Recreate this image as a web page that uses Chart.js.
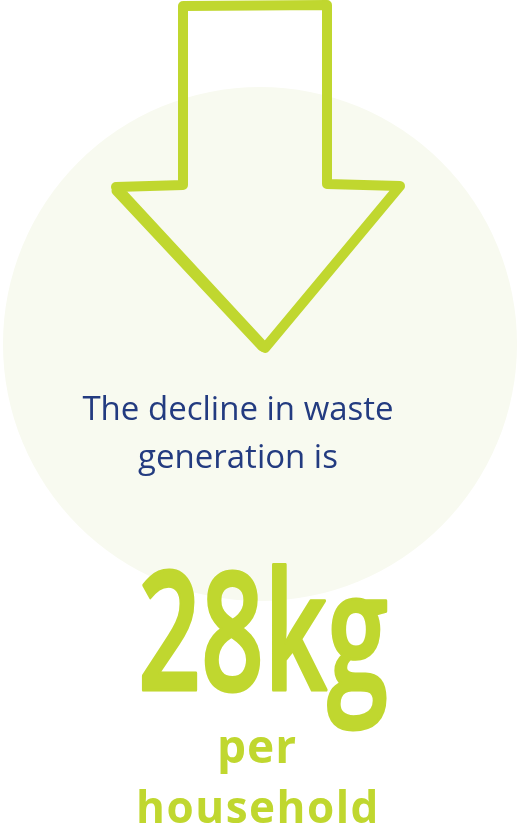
<!DOCTYPE html>
<html>
<head>
<meta charset="utf-8">
<script src="https://cdn.jsdelivr.net/npm/chart.js@4/dist/chart.umd.min.js"></script>
<style>
  html, body { margin: 0; padding: 0; background: #ffffff; }
  #wrap { width: 525px; height: 833px; position: relative; }
</style>
</head>
<body>
<div id="wrap"><canvas id="wasteChart"></canvas></div>
<script>
// values shown on the graphic
const declineValue = [28];
const declineUnit = ['kg'];
const captionLines = ['The decline in waste', 'generation is'];
const footLines = ['per', 'household'];

// colours
const green = '#c0d72f';
const navy = '#233b80';
const pale = '#f8faf0';

// arrow outline (centre line of the hand drawn stroke, in page units)
const arrowX = [183, 327, 327, 400, 265, 116, 183, 183];
const arrowY = [6, 5, 184, 186, 348, 187, 185, 6];
const arrowPoints = arrowX.map((x, i) => ({ x: x, y: arrowY[i] }));
// second pass on the left edge of the head, makes it look thicker
const headEdge = [{ x: 116, y: 191 }, { x: 262, y: 347 }];

// draws the texts with the scales so they sit in the same units as the marks
const textPlugin = {
    id: 'textPlugin',
    afterDatasetsDraw(chart) {
        const ctx = chart.ctx;
        const xs = chart.scales.x;
        const ys = chart.scales.y;
        ctx.save();
        ctx.textAlign = 'center';
        ctx.textBaseline = 'alphabetic';

        // caption
        ctx.fillStyle = navy;
        ctx.font = '33px "Open Sans"';
        ctx.fillText(captionLines[0], xs.getPixelForValue(238), ys.getPixelForValue(420));
        ctx.fillText(captionLines[1], xs.getPixelForValue(238), ys.getPixelForValue(468));

        // big number, squeezed to look like the brush lettering
        const big = declineValue[0] + declineUnit[0];
        ctx.font = '600 165px "Open Sans"';
        const w = ctx.measureText(big).width;
        const target = 250;
        ctx.translate(xs.getPixelForValue(263), ys.getPixelForValue(690));
        ctx.scale(target / w, 1);
        ctx.fillStyle = green;
        ctx.strokeStyle = green;
        ctx.lineJoin = 'round';
        ctx.lineWidth = 3;
        ctx.fillText(big, 0, 0);
        ctx.strokeText(big, 0, 0);
        ctx.setTransform(1, 0, 0, 1, 0, 0);

        // per household
        ctx.fillStyle = green;
        ctx.font = 'bold 46px "Open Sans"';
        ctx.letterSpacing = '1px';
        ctx.fillText(footLines[0], xs.getPixelForValue(257), ys.getPixelForValue(763));
        ctx.font = 'bold 44px "Open Sans"';
        ctx.letterSpacing = '1.5px';
        ctx.fillText(footLines[1], xs.getPixelForValue(258), ys.getPixelForValue(823));
        ctx.restore();
    }
};

const ctx = document.getElementById('wasteChart').getContext('2d');

new Chart(ctx, {
    type: 'scatter',
    data: {
        datasets: [
            {
                // the pale disc behind the arrow
                data: [{ x: 260, y: 344 }],
                pointRadius: 257,
                pointHoverRadius: 257,
                backgroundColor: pale,
                borderWidth: 0,
                pointBorderWidth: 0,
                clip: false,
                order: 3,
            },
            {
                type: 'line',
                data: arrowPoints,
                borderColor: green,
                borderWidth: 10,
                borderJoinStyle: 'round',
                borderCapStyle: 'round',
                pointRadius: 0,
                fill: false,
                tension: 0,
                clip: false,
                order: 1,
            },
            {
                type: 'line',
                data: headEdge,
                borderColor: green,
                borderWidth: 9,
                borderCapStyle: 'round',
                pointRadius: 0,
                fill: false,
                clip: false,
                order: 0,
            },
        ],
    },
    options: {
        responsive: true,
        maintainAspectRatio: false,
        animation: false,
        events: [],
        layout: { padding: 0, autoPadding: false },
        plugins: {
            legend: { display: false },
            tooltip: { enabled: false },
        },
        scales: {
            x: { type: 'linear', min: 0, max: 525, display: false },
            y: { type: 'linear', min: 0, max: 833, reverse: true, display: false },
        },
    },
    plugins: [textPlugin],
});
</script>
</body>
</html>
